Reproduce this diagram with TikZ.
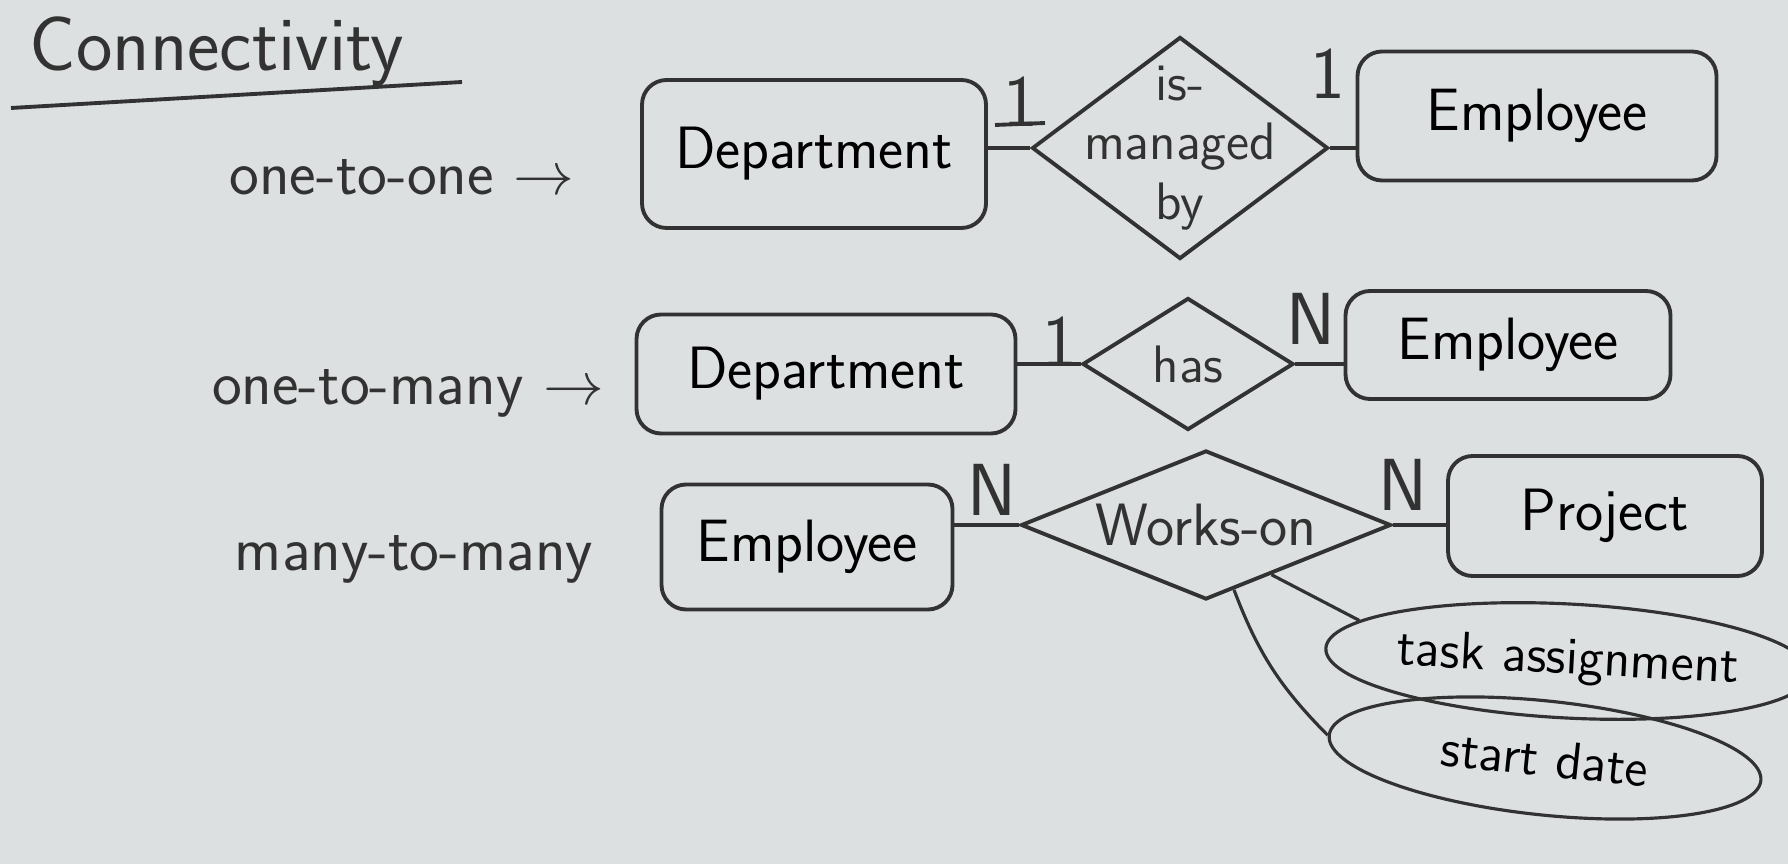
\documentclass[tikz,border=0pt]{standalone}
\usepackage{xcolor}
\usepackage{tikz}
\usetikzlibrary{calc, shapes.geometric}

\definecolor{paper}{RGB}{221,224,225}
\definecolor{ink}{RGB}{50,50,50}

\tikzset{
  entity/.style={draw=ink, rounded corners=7pt, line width=1.1pt, inner sep=0pt, font=\sffamily\fontsize{17}{20}\selectfont},
  relation/.style={draw=ink, diamond, line width=1.1pt, inner sep=0pt},
  reltext/.style={text=ink, align=center, inner sep=0pt, font=\sffamily\fontsize{15}{17}\selectfont},
  attrib/.style={draw=ink, ellipse, line width=0.9pt, inner sep=0pt, font=\sffamily\fontsize{15}{18}\selectfont},
  card/.style={text=ink, font=\sffamily\fontsize{21}{24}\selectfont},
  rowlabel/.style={text=ink, font=\sffamily\fontsize{18}{21}\selectfont},
  link/.style={draw=ink, line width=1.1pt}
}

\begin{document}
\begin{tikzpicture}
  \fill[paper] (0,0) rectangle (17.88,-8.64);
  \useasboundingbox (0,0) rectangle (17.88,-8.64);

  % heading
  \node[text=ink, font=\sffamily\fontsize{22}{26}\selectfont] (title) at (2.17,-0.51) {Connectivity};
  \coordinate (ulA) at (0.11,-1.08);
  \coordinate (ulB) at (4.62,-0.82);
  \draw[link] (ulA) -- (ulB);

  % one-to-one
  \node[rowlabel] (lab1) at (4.02,-1.77) {one-to-one $\rightarrow$};
  \node[entity, minimum width=3.44cm, minimum height=1.48cm] (dept1) at (8.14,-1.54) {Department};
  \node[relation, minimum width=2.96cm, minimum height=2.22cm,
        label={[reltext]center:is-\\managed\\by}] (manages) at (11.80,-1.48) {};
  \node[entity, minimum width=3.59cm, minimum height=1.29cm] (emp1) at (15.37,-1.16) {Employee};
  \draw[link] (dept1.east |- manages.west) -- (manages.west);
  \draw[link] (manages.east) -- (manages.east -| emp1.west);
  \node[card] (c1a) at (10.21,-1.02) {1};
  \coordinate (u1a) at (9.95,-1.25);
  \coordinate (u1b) at (10.45,-1.23);
  \draw[link] (u1a) -- (u1b);
  \node[card] (c1b) at (13.28,-0.74) {1};

  % one-to-many
  \node[rowlabel] (lab2) at (4.08,-3.93) {one-to-many $\rightarrow$};
  \node[entity, minimum width=3.79cm, minimum height=1.19cm] (dept2) at (8.26,-3.74) {Department};
  \node[relation, minimum width=2.11cm, minimum height=1.32cm,
        label={[reltext]center:has}] (has) at (11.88,-3.64) {};
  \node[entity, minimum width=3.25cm, minimum height=1.08cm] (emp2) at (15.08,-3.45) {Employee};
  \draw[link] (dept2.east |- has.west) -- (has.west);
  \draw[link] (has.east) -- (has.east -| emp2.west);
  \node[card] (c2a) at (10.60,-3.42) {1};
  \node[card] (c2b) at (13.11,-3.19) {N};

  % many-to-many
  \node[rowlabel] (lab3) at (4.14,-5.59) {many-to-many};
  \node[entity, minimum width=2.91cm, minimum height=1.25cm] (emp3) at (8.07,-5.47) {Employee};
  \node[relation, minimum width=3.70cm, minimum height=1.49cm,
        label={[reltext, font=\sffamily\fontsize{17}{20}\selectfont]center:Works-on}] (works) at (12.06,-5.25) {};
  \node[entity, minimum width=3.14cm, minimum height=1.20cm] (proj) at (16.05,-5.16) {Project};
  \draw[link] (emp3.east |- works.west) -- (works.west);
  \draw[link] (works.east) -- (works.east -| proj.west);
  \node[card] (c3a) at (9.92,-4.90) {N};
  \node[card] (c3b) at (14.03,-4.85) {N};

  % attributes of works-on
  \node[attrib, minimum width=4.22cm, minimum height=1.14cm, rotate=-3] (task) at (15.68,-6.61) {task assignment};
  \node[attrib, minimum width=4.34cm, minimum height=1.14cm, rotate=-6] (start) at (15.45,-7.58) {start date};
  \draw[link, line width=0.9pt] ($(works.south)!0.35!(works.east)$) -- (task.172);
  \draw[link, line width=0.9pt] ($(works.south)!0.15!(works.east)$) to[bend right=12] (start.west);
\end{tikzpicture}
\end{document}
